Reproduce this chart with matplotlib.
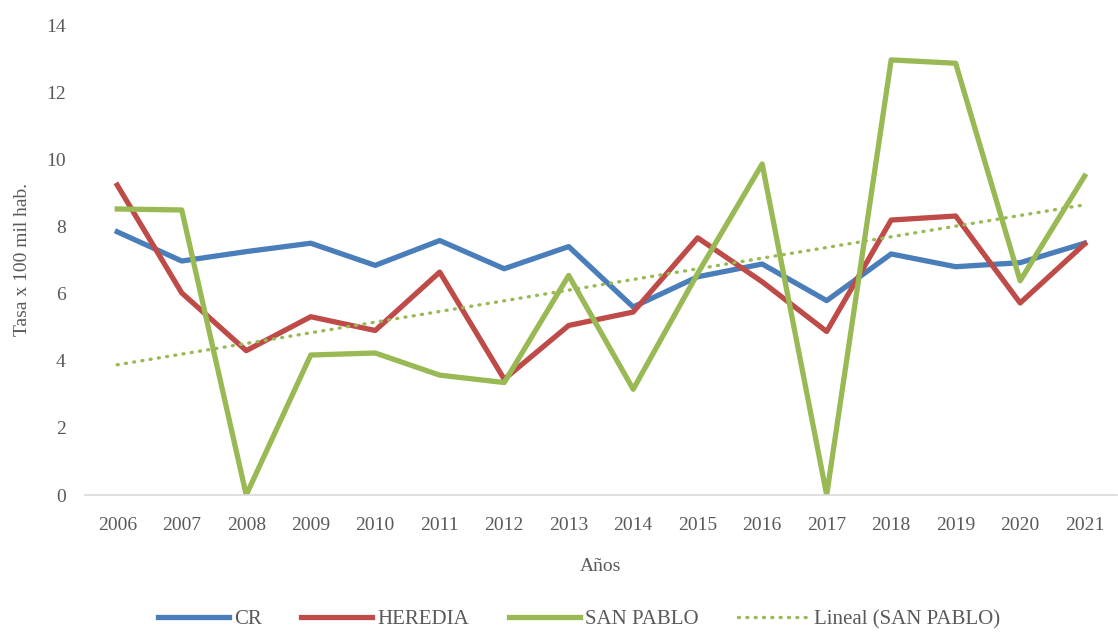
import numpy as np
import matplotlib
matplotlib.use("Agg")
import matplotlib.pyplot as plt

years = ["2006", "2007", "2008", "2009", "2010", "2011", "2012", "2013",
         "2014", "2015", "2016", "2017", "2018", "2019", "2020", "2021"]
cr = [7.84, 6.97, 7.25, 7.50, 6.84, 7.58, 6.74, 7.40, 5.60, 6.50, 6.88, 5.79, 7.18, 6.80, 6.92, 7.50]
heredia = [9.23, 6.02, 4.30, 5.31, 4.90, 6.64, 3.45, 5.05, 5.45, 7.66, 6.35, 4.87, 8.19, 8.31, 5.72, 7.48]
san_pablo = [8.52, 8.49, 0.0, 4.17, 4.23, 3.57, 3.35, 6.54, 3.15, 6.60, 9.86, 0.0, 12.96, 12.86, 6.38, 9.50]
y_ticks = [0, 2, 4, 6, 8, 10, 12, 14]

txt = "#595959"
plt.rcParams['font.family'] = ['Liberation Serif', 'DejaVu Serif']

fig = plt.figure(figsize=(11.18, 6.34), dpi=100)
ax = fig.add_axes([85/1118, 1 - 495/634, 1 - 85/1118 - 0.001, (495 - 25)/634])

x = np.arange(len(years))
ax.plot(x, cr, color="#4A7EBB", lw=3.8, label="CR", solid_joinstyle="round")
ax.plot(x, heredia, color="#BE4B48", lw=3.8, label="HEREDIA", solid_joinstyle="round")
ax.plot(x, san_pablo, color="#98B954", lw=3.8, label="SAN PABLO", solid_joinstyle="round")
coef = np.polyfit(x, san_pablo, 1)
ax.plot(x, np.polyval(coef, x), color="#98B954", lw=2.4, ls=(0, (0.3, 2.2)),
        dash_capstyle="round", label="Lineal (SAN PABLO)")

ax.set_xlim(-0.5, len(years) - 0.5)
ax.set_ylim(0, 14)
ax.set_yticks(y_ticks)
ax.set_xticks(x)
ax.set_xticklabels(years)
ax.tick_params(axis="both", length=0, labelsize=14, labelcolor=txt)
ax.tick_params(axis="x", pad=16)
ax.tick_params(axis="y", pad=14)
for s in ["top", "right", "left"]:
    ax.spines[s].set_visible(False)
ax.spines["bottom"].set_color("#D9D9D9")
ax.spines["bottom"].set_linewidth(1.2)

ax.set_ylabel("Tasa x 100 mil hab.", fontsize=14, color=txt, labelpad=11)
ax.set_xlabel("Años", fontsize=14, color=txt, labelpad=17)

fig.legend(loc="lower center", bbox_to_anchor=(0.518, -0.022), ncol=4, frameon=False,
           fontsize=15, labelcolor=txt, handlelength=3.4, columnspacing=1.9, handletextpad=0.25)

fig.savefig("out.png", dpi=100)
